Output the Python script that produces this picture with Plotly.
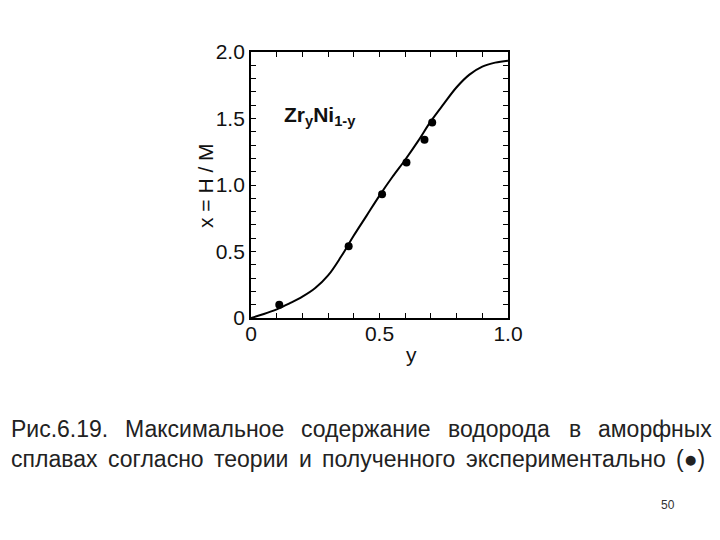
import plotly.graph_objects as go

# Theory curve
curve_y_frac = [0, 0.05, 0.1, 0.15, 0.2, 0.25, 0.3, 0.35, 0.4, 0.45, 0.5,
                0.55, 0.6, 0.65, 0.7, 0.75, 0.8, 0.85, 0.9, 0.95, 1.0]
curve_x_hm = [0, 0.03, 0.065, 0.11, 0.16, 0.225, 0.32, 0.46, 0.62, 0.77, 0.92,
              1.06, 1.19, 1.33, 1.48, 1.61, 1.735, 1.83, 1.89, 1.92, 1.935]

# Experimental points
exp_y = [0.11, 0.38, 0.51, 0.605, 0.675, 0.705]
exp_x = [0.10, 0.54, 0.93, 1.17, 1.34, 1.47]

x_ticks = [0, 0.5, 1.0]
x_ticklabels = ["0", "0.5", "1.0"]
y_ticks = [0, 0.5, 1.0, 1.5, 2.0]
y_ticklabels = ["0", "0.5", "1.0", "1.5", "2.0"]

caption_line1 = ["Рис.6.19.", "Максимальное", "содержание", "водорода", "в", "аморфных"]
caption_line2 = ["сплавах", "согласно", "теории", "и", "полученного", "экспериментально", "(●)"]

W, H = 720, 540
OFF = 8  # page body margin
L, R, T, B = 251 - OFF, 508 - OFF, 52 - OFF, 318 - OFF

def px(xp):
    return (xp - OFF - L) / (R - L)

def py(yp):
    return (B - (yp - OFF)) / (B - T)

FONT = "Liberation Sans, Arial, sans-serif"
CAP_SIZE = 23

# approximate Arial advance widths (per 1000 em) used to justify the caption
ADV = {"а": 556, "б": 573, "в": 531, "г": 365, "д": 583, "е": 556, "ж": 669, "з": 458,
       "и": 559, "й": 559, "к": 438, "л": 583, "м": 688, "н": 552, "о": 556, "п": 542,
       "р": 556, "с": 500, "т": 458, "у": 500, "ф": 823, "х": 500, "ц": 560, "ч": 518,
       "ш": 802, "щ": 823, "ъ": 625, "ы": 719, "ь": 521, "э": 510, "ю": 750, "я": 542,
       "Р": 667, "М": 833, ".": 278, "(": 333, ")": 333, "●": 604}

def wlen(word, size):
    return sum(ADV.get(c, 556) for c in word) * size / 1000.0

def justify(words, x0, x1, size):
    widths = [wlen(w, size) for w in words]
    gap = (x1 - x0 - sum(widths)) / (len(words) - 1)
    xs, cur = [], x0
    for wd in widths:
        xs.append(cur)
        cur += wd + gap
    return xs

fig = go.Figure()
fig.add_trace(go.Scatter(x=curve_y_frac, y=curve_x_hm, mode="lines",
                         line=dict(color="black", width=2, shape="spline"),
                         showlegend=False))
fig.add_trace(go.Scatter(x=exp_y, y=exp_x, mode="markers",
                         marker=dict(color="black", size=8),
                         showlegend=False))

axis_common = dict(showline=True, linecolor="black", linewidth=1.8, mirror="ticks",
                   ticks="inside", ticklen=5, tickwidth=1.2, tickcolor="black",
                   showgrid=False, zeroline=False,
                   tickfont=dict(family=FONT, size=21, color="#111"))

fig.update_xaxes(range=[0, 1.0], tickvals=x_ticks, ticktext=x_ticklabels,
                 minor=dict(dtick=0.1, tick0=0, ticks="inside", ticklen=5,
                            tickwidth=1.2, tickcolor="black"),
                 ticklabelstandoff=-4,
                 **axis_common)
fig.update_yaxes(range=[0, 2.0], tickvals=y_ticks, ticktext=y_ticklabels,
                 minor=dict(dtick=0.1, tick0=0, ticks="inside", ticklen=5,
                            tickwidth=1.2, tickcolor="black"),
                 ticklabelstandoff=0,
                 **axis_common)

anns = [
    dict(x=0.12, y=1.52, xref="x", yref="y", text="Zr<sub>y</sub>Ni<sub>1-y</sub>",
         showarrow=False, xanchor="left", yanchor="middle",
         font=dict(family=FONT, size=21, color="#111", weight="bold")),
    dict(x=px(205), y=py(186), xref="paper", yref="paper", text="x = H / M",
         showarrow=False, textangle=-90, xanchor="center", yanchor="middle",
         font=dict(family=FONT, size=21, color="#111")),
    dict(x=px(411), y=py(354), xref="paper", yref="paper", text="y",
         showarrow=False, xanchor="center", yanchor="middle",
         font=dict(family=FONT, size=21, color="#111")),
    dict(x=px(668), y=py(505), xref="paper", yref="paper", text="50",
         showarrow=False, xanchor="center", yanchor="middle",
         font=dict(family=FONT, size=12, color="#333")),
]
for words, x0, x1, yc in ((caption_line1, 10, 711, 429), (caption_line2, 10, 704, 459)):
    for w, xw in zip(words, justify(words, x0, x1, CAP_SIZE)):
        anns.append(dict(x=px(xw), y=py(yc), xref="paper", yref="paper", text=w,
                         showarrow=False, xanchor="left", yanchor="middle",
                         borderpad=0,
                         font=dict(family=FONT, size=CAP_SIZE, color="#222")))

fig.update_layout(width=W, height=H, margin=dict(l=L, r=W - R, t=T, b=H - B),
                  paper_bgcolor="white", plot_bgcolor="white", annotations=anns)
fig.write_html("out.html")
